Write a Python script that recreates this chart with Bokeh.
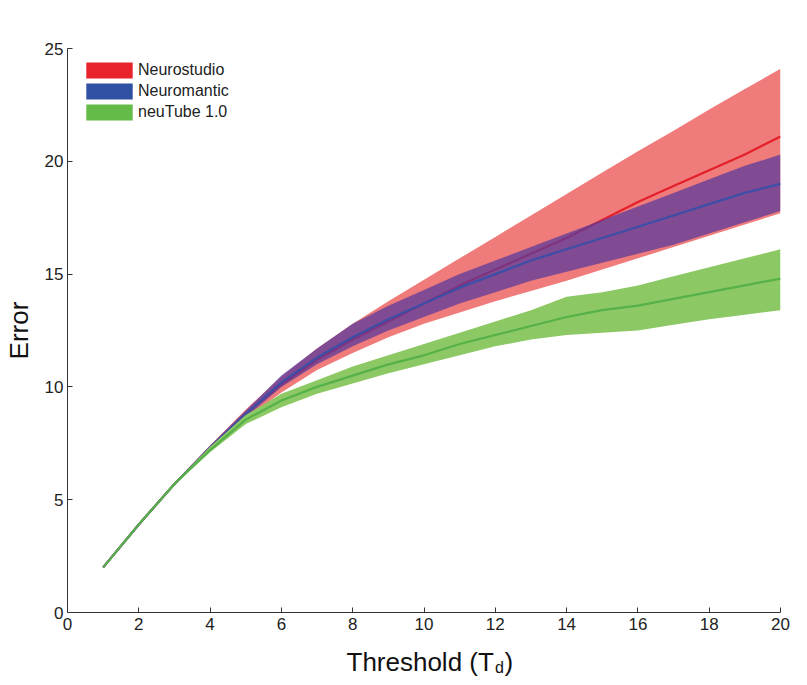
from bokeh.plotting import figure
from bokeh.layouts import column
from bokeh.models import Range1d, Legend, LegendItem, ColumnDataSource, Label, FixedTicker
from bokeh.embed import file_html
from bokeh.resources import INLINE

# ---- data ----
thresholds = list(range(1, 21))

neurostudio_mean = [2.0, 3.9, 5.7, 7.3, 8.8, 10.1, 11.2, 12.1, 12.9, 13.7,
                    14.5, 15.2, 15.9, 16.6, 17.4, 18.2, 18.9, 19.6, 20.3, 21.1]
neurostudio_lo = [2.0, 3.9, 5.65, 7.2, 8.6, 9.75, 10.75, 11.5, 12.2, 12.8,
                  13.3, 13.8, 14.25, 14.7, 15.2, 15.7, 16.2, 16.7, 17.2, 17.7]
neurostudio_hi = [2.0, 3.9, 5.75, 7.4, 9.0, 10.45, 11.7, 12.8, 13.8, 14.75,
                  15.7, 16.65, 17.6, 18.55, 19.5, 20.45, 21.35, 22.3, 23.2, 24.1]

neuromantic_mean = [2.0, 3.9, 5.7, 7.3, 8.8, 10.2, 11.3, 12.2, 13.0, 13.7,
                    14.4, 15.0, 15.6, 16.1, 16.6, 17.1, 17.6, 18.1, 18.6, 19.0]
neuromantic_lo = [2.0, 3.9, 5.65, 7.2, 8.65, 10.0, 11.0, 11.8, 12.5, 13.1,
                  13.7, 14.2, 14.7, 15.1, 15.5, 15.9, 16.3, 16.8, 17.3, 17.8]
neuromantic_hi = [2.0, 3.9, 5.75, 7.4, 8.95, 10.5, 11.7, 12.8, 13.6, 14.3,
                  15.0, 15.6, 16.2, 16.8, 17.4, 18.0, 18.6, 19.2, 19.8, 20.3]

neutube_mean = [2.0, 3.9, 5.7, 7.2, 8.55, 9.4, 10.0, 10.5, 11.0, 11.4,
                11.9, 12.3, 12.7, 13.1, 13.4, 13.6, 13.9, 14.2, 14.5, 14.8]
neutube_lo = [2.0, 3.9, 5.65, 7.1, 8.35, 9.1, 9.7, 10.15, 10.6, 11.0,
              11.4, 11.8, 12.1, 12.3, 12.4, 12.5, 12.75, 13.0, 13.2, 13.4]
neutube_hi = [2.0, 3.9, 5.75, 7.35, 8.75, 9.7, 10.3, 10.9, 11.4, 11.9,
              12.4, 12.9, 13.4, 14.0, 14.2, 14.5, 14.9, 15.3, 15.7, 16.1]

series_names = ["Neurostudio", "Neuromantic", "neuTube 1.0"]
x_ticks = list(range(0, 21, 2))
y_ticks = list(range(0, 26, 5))

FONT = "Liberation Sans"
NAN = float("nan")

p = figure(width=800, height=637, output_backend="svg", toolbar_location=None,
           x_range=Range1d(0, 20), y_range=Range1d(0, 25),
           min_border_left=66, min_border_right=20, min_border_top=48, min_border_bottom=25)
p.outline_line_color = None
p.xgrid.visible = False
p.ygrid.visible = False

src_ns = ColumnDataSource(dict(x=thresholds, m=neurostudio_mean, lo=neurostudio_lo, hi=neurostudio_hi))
src_nm = ColumnDataSource(dict(x=thresholds, m=neuromantic_mean, lo=neuromantic_lo, hi=neuromantic_hi))
src_nt = ColumnDataSource(dict(x=thresholds, m=neutube_mean, lo=neutube_lo, hi=neutube_hi))

p.varea(x="x", y1="lo", y2="hi", source=src_ns, fill_color="#f07b7b", fill_alpha=1.0)
p.line(x="x", y="m", source=src_ns, line_color="#e3202a", line_width=2.2)
p.varea(x="x", y1="lo", y2="hi", source=src_nm, fill_color="#5a3a9c", fill_alpha=0.74)
p.line(x="x", y="m", source=src_nm, line_color="#3c4ea6", line_width=2.2)
p.varea(x="x", y1="lo", y2="hi", source=src_nt, fill_color="#8cc965", fill_alpha=1.0)
p.line(x="x", y="m", source=src_nt, line_color="#55b148", line_width=2.2)

# legend swatches (renderers with no drawable data, used only for the legend)
legend_colors = ["#e8232b", "#3050a4", "#64bb47"]
items = []
for name, col in zip(series_names, legend_colors):
    r = p.quad(left=[NAN], right=[NAN], bottom=[NAN], top=[NAN], fill_color=col, line_color=None)
    items.append(LegendItem(label=name, renderers=[r], index=0))
legend = Legend(items=items, location=(13, 490), border_line_color=None,
                background_fill_alpha=0, glyph_width=58, glyph_height=20,
                spacing=1, label_standoff=0, padding=0, margin=0,
                label_text_font=FONT, label_text_font_size="16px",
                label_text_color="#222222", label_height=18)
p.add_layout(legend)

for ax in (p.xaxis[0], p.yaxis[0]):
    ax.axis_line_color = "#333333"
    ax.axis_line_width = 1
    ax.major_tick_line_color = "#333333"
    ax.major_tick_in = 5
    ax.major_tick_out = 0
    ax.minor_tick_line_color = None
    ax.major_label_text_font = FONT
    ax.major_label_text_font_size = "17px"
    ax.major_label_text_color = "#222222"
    ax.major_label_standoff = 5

p.xaxis.ticker = FixedTicker(ticks=x_ticks)
p.yaxis.ticker = FixedTicker(ticks=y_ticks)
p.yaxis.axis_label = "Error"
p.yaxis.axis_label_text_font = FONT
p.yaxis.axis_label_text_font_size = "26px"
p.yaxis.axis_label_text_font_style = "normal"
p.yaxis.axis_label_text_color = "#111111"
p.yaxis.axis_label_standoff = 8
p.yaxis.major_label_standoff = 4

# strip below the chart holding the x axis title with its subscript
q = figure(width=800, height=46, output_backend="svg", toolbar_location=None,
           x_range=p.x_range, y_range=Range1d(0, 46), x_axis_type=None, y_axis_type=None,
           min_border_left=66, min_border_right=20, min_border_top=0, min_border_bottom=0)
q.outline_line_color = None
q.xgrid.visible = False
q.ygrid.visible = False

lab_kw = dict(text_font=FONT, text_color="#111111", text_baseline="middle")
q.add_layout(Label(x=11.96, y=22, text="Threshold (T", text_align="right",
                   text_font_size="26px", **lab_kw))
q.add_layout(Label(x=11.99, y=16, text="d", text_align="left",
                   text_font_size="16px", **lab_kw))
q.add_layout(Label(x=12.26, y=22, text=")", text_align="left",
                   text_font_size="26px", **lab_kw))

layout = column(p, q, spacing=0)
open("out.html", "w").write(file_html(layout, INLINE))
